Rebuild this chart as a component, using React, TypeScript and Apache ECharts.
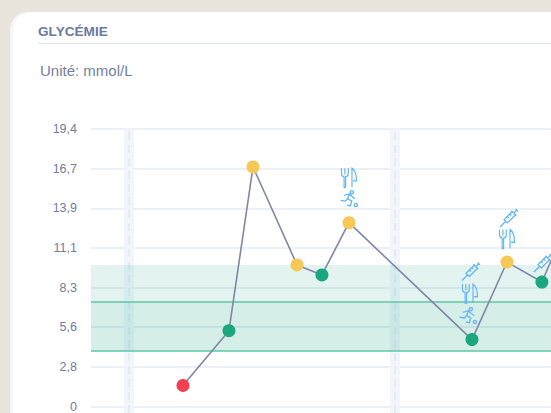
import React, { useEffect, useRef } from "react";
import * as echarts from "echarts";

const yTickLabels = ["0", "2,8", "5,6", "8,3", "11,1", "13,9", "16,7", "19,4"];
const hours = [4.87, 9.02, 11.19, 15.16, 17.41, 19.85, 30.95, 34.11, 37.26, 38.89];
const glucose = [1.47, 5.3, 16.75, 9.9, 9.2, 12.85, 4.68, 10.1, 8.7, 11.65];
const pointColors = ["#f43f51", "#1aa67f", "#f6c956", "#f6c956", "#1aa67f", "#f6c956", "#1aa67f", "#f6c956", "#1aa67f", "#1aa67f"];
const midnights = [0, 24];
const targetBands = [[3.9, 9.9], [3.9, 7.3]];
const bandColors = ["rgba(26,168,130,0.12)", "rgba(26,168,130,0.07)"];
const targetLines = [3.9, 7.3];
// [point index, icon shift along x, icon offset above the point]
const runnerIcons = [[5, 0, 24], [6, -4, 24]];
const mealIcons = [[5, 0, 45], [6, -2, 46], [7, 0, 23]];
const syringeIcons = [[6, -1, 68], [7, 2, 44], [8, 1, 19]];

const FORK = "path://M1 0V7C1 9 2.5 10.5 4.5 11V24H6.5V11C8.5 10.5 10 9 10 7V0M5.5 0V8M15 24V0C18.5 2 21 8 21 16H16.5";
const RUNNER = "path://M14 2a2 2 0 1 0 .1 0M4 8L11 6L14 9L18 12M11 6L9 12L14 15L12 21L8 20M9 12L6 15L0 14M19 18a2 2 0 1 0 .1 0";
const SYRINGE = "path://M20 1L23 4M21.5 2.5L18 6M15 3L21 9M16 4L20 8L10 18L6 14ZM13 7L15 9M10 10L12 12M8 16L1 23";

const X_MIN = -3.43;
const X_MAX = 38.08;

function iconSeries(icons: number[][], symbol: string, w: number, h: number) {
  return {
    type: "scatter",
    xAxisIndex: 0,
    yAxisIndex: 0,
    silent: true,
    z: 6,
    symbol,
    itemStyle: { color: "none", borderColor: "#62b5f6", borderWidth: 1.3, opacity: 1 },
    data: icons.map(([i, dx, up]) => ({
      value: [hours[i], glucose[i]],
      symbolSize: [w, h],
      symbolOffset: [dx, -up],
    })),
  };
}

export default function App() {
  const ref = useRef<HTMLDivElement>(null);
  useEffect(() => {
    document.body.style.margin = "0";
    const chart = echarts.init(ref.current!, undefined, { renderer: "svg" });
    chart.setOption({
      animation: false,
      backgroundColor: "#e9e4dc",
      textStyle: { fontFamily: "Liberation Sans" },
      graphic: [
        { type: "rect", z: -10, shape: { x: 10, y: 12, width: 600, height: 460, r: 18 }, style: { fill: "#f3f6fb" } },
        { type: "rect", z: -9, shape: { x: 13, y: 12, width: 600, height: 460, r: 18 }, style: { fill: "#ffffff" } },
        { type: "text", x: 38, y: 24, style: { text: "GLYCÉMIE", font: "bold 13.6px Liberation Sans", fill: "#6a7aa0" } },
        { type: "rect", shape: { x: 38, y: 43, width: 513, height: 1 }, style: { fill: "#e2e8f1" } },
        { type: "text", x: 40, y: 63, style: { text: "Unité: mmol/L", font: "15px Liberation Sans", fill: "#74809f" } },
      ],
      grid: [
        { left: 91, top: 129, right: 0, height: 278 },
        { left: 91, top: 129, right: 0, bottom: 0 },
      ],
      xAxis: [
        { type: "value", gridIndex: 0, min: X_MIN, max: X_MAX, show: false, splitLine: { show: false } },
        { type: "value", gridIndex: 1, min: X_MIN, max: X_MAX, show: false, splitLine: { show: false } },
      ],
      yAxis: [
        {
          type: "value",
          gridIndex: 0,
          min: 0,
          max: 19.4,
          interval: 19.4 / 7,
          axisLine: { show: true, lineStyle: { color: "#dfe6f1" } },
          axisTick: { show: false },
          splitLine: { show: true, lineStyle: { color: "#e5ebf5", width: 1.5 } },
          axisLabel: {
            color: "#6f7d9e",
            fontSize: 12.5,
            margin: 14,
            formatter: (v: number) => yTickLabels[Math.round(v / (19.4 / 7))],
          },
        },
        { type: "value", gridIndex: 1, min: 0, max: 1, show: false, splitLine: { show: false } },
      ],
      series: [
        {
          type: "bar",
          xAxisIndex: 1,
          yAxisIndex: 1,
          z: 1,
          silent: true,
          barWidth: 10,
          itemStyle: { color: "#f2f6fb" },
          data: midnights.map((m) => [m, 1]),
          markLine: {
            z: 2,
            silent: true,
            symbol: "none",
            label: { show: false },
            lineStyle: { color: "#dfe8f3", type: [8, 5], width: 1.5 },
            data: midnights.map((m) => ({ xAxis: m })),
          },
        },
        {
          type: "line",
          xAxisIndex: 0,
          yAxisIndex: 0,
          z: 5,
          data: hours.map((h, i) => ({
            value: [h, glucose[i]],
            itemStyle: { color: pointColors[i] },
          })),
          symbol: "circle",
          symbolSize: 13,
          showAllSymbol: true,
          lineStyle: { color: "#7f86a8", width: 1.6 },
          markArea: {
            z: 3,
            silent: true,
            data: targetBands.map(([a, b], i) => [
              { yAxis: a, itemStyle: { color: bandColors[i] } },
              { yAxis: b },
            ]),
          },
          markLine: {
            z: 4,
            silent: true,
            symbol: "none",
            label: { show: false },
            lineStyle: { color: "#5cc6a6", type: "solid", width: 1.5 },
            data: targetLines.map((v) => ({ yAxis: v })),
          },
        },
        iconSeries(runnerIcons, RUNNER, 17, 16),
        iconSeries(mealIcons, FORK, 15, 19),
        iconSeries(syringeIcons, SYRINGE, 18, 18),
      ],
    });
    return () => chart.dispose();
  }, []);
  return <div ref={ref} style={{ width: 551, height: 413, overflow: "hidden" }} />;
}
